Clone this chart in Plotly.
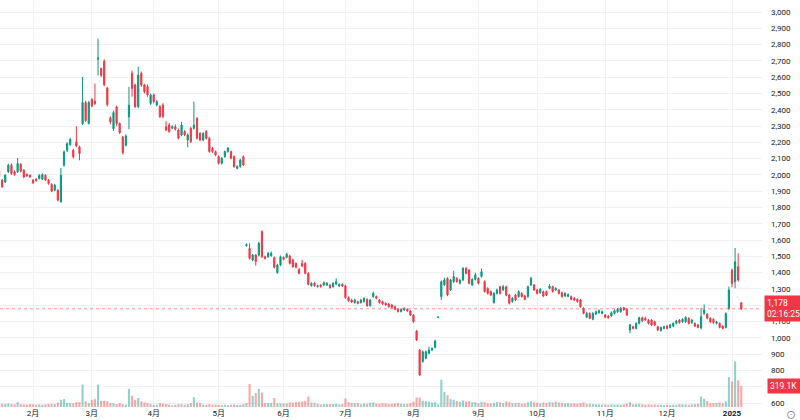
import plotly.graph_objects as go

# ---------------- data (daily bars) ----------------
opens = [
    2029, 1968, 1957, 2019, 2060, 2019, 2019, 2066, 2029, 2002,
    1998, 1968, 1974, 1978, 1974, 1998, 1968, 1941, 1906, 1906,
    1835, 2060, 2152, 2186, 2152, 2203, 2172, 2315, 2444, 2315,
    2464, 2452, 2710, 2653, 2698, 2534, 2350, 2284, 2417, 2315,
    2233, 2182, 2356, 2624, 2552, 2419, 2624, 2552, 2542, 2439,
    2491, 2429, 2419, 2429, 2296, 2306, 2286, 2296, 2276, 2245,
    2266, 2214, 2286, 2286, 2347, 2255, 2214, 2266, 2225, 2163,
    2143, 2112, 2071, 2112, 2143, 2143, 2112, 2040, 2051, 2112,
    1565, 1549, 1478, 1508, 1508, 1652, 1498, 1498, 1504, 1492,
    1400, 1447, 1494, 1494, 1502, 1478, 1457, 1420, 1457, 1457,
    1396, 1320, 1335, 1314, 1324, 1324, 1324, 1324, 1314, 1330,
    1318, 1328, 1320, 1247, 1232, 1216, 1222, 1216, 1222, 1236,
    1197, 1253, 1253, 1232, 1222, 1212, 1208, 1202, 1191, 1175,
    1161, 1171, 1175, 1165, 1140, 1042, 925, 854, 874, 905,
    925, 942, 1124, 1253, 1325, 1365, 1294, 1345, 1365, 1335,
    1355, 1427, 1416, 1324, 1359, 1365, 1376, 1345, 1304, 1284,
    1216, 1273, 1314, 1294, 1314, 1263, 1222, 1263, 1253, 1273,
    1257, 1253, 1324, 1324, 1294, 1277, 1284, 1284, 1304, 1314,
    1294, 1294, 1277, 1257, 1255, 1253, 1243, 1236, 1232, 1181,
    1126, 1150, 1114, 1146, 1154, 1150, 1140, 1134, 1134, 1150,
    1160, 1160, 1185, 1175, 1048, 1068, 1058, 1089, 1124, 1120,
    1109, 1109, 1099, 1068, 1044, 1058, 1072, 1064, 1072, 1089,
    1109, 1099, 1099, 1120, 1093, 1089, 1079, 1060, 1150, 1146,
    1120, 1114, 1089, 1089, 1072, 1064, 1181, 1416, 1345, 1437,
    1215,
]
closes = [
    1988, 1927, 1998, 2060, 2008, 2002, 2070, 2023, 1988, 1994,
    1988, 1951, 1965, 1998, 2002, 1968, 1947, 1900, 1937, 1845,
    1998, 2141, 2192, 2217, 2111, 2178, 2131, 2444, 2334, 2444,
    2424, 2438, 2718, 2612, 2554, 2432, 2325, 2383, 2315, 2260,
    2137, 2239, 2428, 2531, 2419, 2613, 2552, 2511, 2491, 2491,
    2450, 2450, 2358, 2358, 2276, 2266, 2296, 2280, 2225, 2306,
    2245, 2245, 2204, 2306, 2225, 2214, 2255, 2225, 2143, 2143,
    2122, 2071, 2102, 2143, 2163, 2102, 2051, 2051, 2092, 2061,
    1572, 1488, 1508, 1468, 1580, 1498, 1488, 1519, 1519, 1433,
    1447, 1498, 1482, 1514, 1457, 1437, 1433, 1396, 1441, 1396,
    1328, 1335, 1320, 1320, 1314, 1339, 1335, 1308, 1335, 1345,
    1328, 1318, 1247, 1228, 1220, 1232, 1212, 1232, 1242, 1197,
    1232, 1273, 1243, 1216, 1208, 1202, 1191, 1187, 1175, 1161,
    1175, 1181, 1165, 1140, 1099, 987, 772, 915, 915, 925,
    935, 981, 1128, 1345, 1355, 1263, 1355, 1376, 1345, 1355,
    1427, 1396, 1335, 1359, 1386, 1335, 1406, 1284, 1273, 1263,
    1273, 1294, 1273, 1314, 1263, 1212, 1243, 1232, 1284, 1253,
    1236, 1314, 1365, 1294, 1273, 1298, 1257, 1263, 1318, 1284,
    1304, 1273, 1253, 1273, 1265, 1236, 1232, 1222, 1191, 1150,
    1150, 1120, 1150, 1160, 1167, 1160, 1126, 1124, 1154, 1167,
    1175, 1181, 1172, 1140, 1079, 1058, 1089, 1124, 1105, 1110,
    1089, 1079, 1079, 1048, 1064, 1068, 1058, 1079, 1089, 1103,
    1093, 1114, 1126, 1089, 1109, 1072, 1064, 1130, 1170, 1120,
    1099, 1093, 1099, 1064, 1058, 1150, 1294, 1334, 1467, 1355,
    1178,
]
highs = [
    2040, 1975, 2005, 2068, 2070, 2028, 2104, 2072, 2035, 2010,
    2004, 1975, 1980, 2004, 2010, 2004, 1975, 1950, 1945, 1912,
    2043, 2150, 2200, 2228, 2160, 2299, 2180, 2601, 2455, 2455,
    2470, 2561, 2836, 2660, 2710, 2540, 2360, 2395, 2425, 2322,
    2240, 2250, 2540, 2640, 2560, 2664, 2635, 2560, 2555, 2500,
    2500, 2460, 2430, 2440, 2330, 2320, 2305, 2310, 2285, 2326,
    2275, 2255, 2295, 2450, 2355, 2262, 2262, 2275, 2232, 2172,
    2150, 2120, 2110, 2150, 2172, 2150, 2120, 2060, 2100, 2120,
    1580, 1580, 1515, 1515, 1590, 1660, 1505, 1526, 1530, 1500,
    1455, 1505, 1500, 1522, 1510, 1485, 1464, 1428, 1480, 1465,
    1402, 1342, 1342, 1326, 1330, 1346, 1342, 1330, 1342, 1365,
    1335, 1335, 1326, 1254, 1240, 1240, 1228, 1240, 1250, 1242,
    1240, 1283, 1260, 1238, 1228, 1218, 1214, 1208, 1198, 1182,
    1182, 1188, 1182, 1170, 1146, 1048, 930, 922, 922, 945,
    942, 988, 1130, 1352, 1370, 1372, 1362, 1412, 1372, 1362,
    1434, 1434, 1422, 1366, 1400, 1372, 1425, 1352, 1310, 1290,
    1280, 1302, 1320, 1325, 1320, 1270, 1250, 1270, 1292, 1280,
    1264, 1320, 1375, 1330, 1300, 1305, 1290, 1290, 1330, 1320,
    1310, 1300, 1284, 1280, 1272, 1260, 1250, 1243, 1238, 1188,
    1158, 1156, 1158, 1168, 1175, 1168, 1146, 1140, 1162, 1175,
    1182, 1190, 1190, 1182, 1085, 1074, 1095, 1130, 1130, 1130,
    1115, 1115, 1105, 1074, 1070, 1074, 1078, 1085, 1095, 1110,
    1115, 1120, 1132, 1126, 1115, 1095, 1085, 1185, 1205, 1152,
    1126, 1120, 1105, 1095, 1078, 1156, 1315, 1425, 1551, 1519,
    1218,
]
lows = [
    1980, 1920, 1950, 2012, 2000, 1995, 2012, 2015, 1980, 1988,
    1982, 1945, 1958, 1972, 1968, 1962, 1940, 1894, 1900, 1838,
    1830, 2050, 2140, 2178, 2100, 2170, 2090, 2305, 2325, 2310,
    2415, 2430, 2610, 2600, 2545, 2420, 2310, 2270, 2300, 2250,
    2125, 2175, 2280, 2480, 2410, 2410, 2540, 2500, 2480, 2430,
    2440, 2420, 2350, 2350, 2268, 2258, 2280, 2272, 2218, 2238,
    2238, 2170, 2196, 2278, 2218, 2206, 2206, 2218, 2136, 2136,
    2115, 2064, 2064, 2105, 2136, 2095, 2044, 2034, 2044, 2054,
    1560, 1480, 1470, 1443, 1500, 1490, 1480, 1490, 1498, 1426,
    1394, 1440, 1476, 1488, 1450, 1430, 1426, 1390, 1434, 1390,
    1322, 1314, 1314, 1308, 1308, 1318, 1318, 1302, 1308, 1324,
    1312, 1312, 1240, 1222, 1214, 1210, 1206, 1210, 1216, 1190,
    1192, 1246, 1236, 1210, 1202, 1196, 1186, 1180, 1170, 1156,
    1156, 1165, 1160, 1134, 1092, 980, 766, 848, 868, 898,
    918, 936, 1122, 1232, 1318, 1256, 1288, 1338, 1338, 1328,
    1348, 1390, 1328, 1318, 1352, 1328, 1370, 1278, 1266, 1256,
    1210, 1266, 1266, 1288, 1256, 1205, 1215, 1225, 1246, 1246,
    1230, 1246, 1318, 1288, 1266, 1270, 1250, 1256, 1298, 1278,
    1288, 1266, 1246, 1250, 1248, 1230, 1226, 1216, 1185, 1144,
    1120, 1114, 1108, 1140, 1148, 1144, 1120, 1118, 1128, 1144,
    1154, 1154, 1166, 1134, 1028, 1052, 1052, 1082, 1098, 1104,
    1082, 1072, 1072, 1042, 1038, 1052, 1052, 1058, 1066, 1082,
    1086, 1092, 1092, 1082, 1086, 1066, 1058, 1052, 1140, 1114,
    1092, 1086, 1082, 1058, 1052, 1058, 1170, 1310, 1304, 1345,
    1170,
]
volumes_k = [
    45, 50, 45, 55, 45, 40, 75, 45, 40, 35,
    45, 40, 35, 40, 35, 40, 45, 50, 45, 70,
    110, 120, 60, 60, 58, 76, 76, 340, 86, 60,
    110, 120, 340, 96, 96, 86, 60, 60, 45, 60,
    45, 35, 275, 172, 110, 137, 86, 70, 60, 45,
    35, 35, 60, 50, 45, 35, 25, 35, 45, 45,
    35, 45, 60, 152, 70, 60, 35, 35, 45, 35,
    35, 35, 30, 35, 30, 35, 40, 30, 35, 45,
    60, 350, 170, 210, 275, 220, 60, 60, 60, 137,
    55, 55, 55, 55, 70, 65, 75, 80, 85, 95,
    160, 70, 65, 50, 40, 45, 45, 45, 45, 50,
    40, 45, 130, 75, 60, 60, 60, 40, 55, 50,
    65, 70, 55, 50, 60, 55, 45, 50, 55, 60,
    50, 45, 50, 60, 80, 145, 145, 95, 90, 80,
    70, 75, 40, 415, 230, 180, 120, 110, 90, 75,
    100, 80, 90, 70, 75, 60, 80, 75, 60, 55,
    65, 75, 70, 60, 85, 75, 55, 60, 65, 50,
    55, 70, 85, 70, 65, 55, 70, 60, 75, 70,
    80, 70, 65, 55, 60, 55, 55, 50, 60, 70,
    45, 50, 45, 40, 40, 35, 40, 35, 40, 35,
    40, 35, 40, 50, 75, 40, 45, 50, 40, 35,
    40, 35, 40, 35, 35, 30, 35, 30, 35, 35,
    45, 40, 40, 35, 40, 45, 50, 160, 125, 90,
    60, 60, 65, 70, 55, 85, 456, 390, 694, 405,
    319.1,
]

# month-start bar indices and their labels
month_idx = [11, 30, 50, 71, 92, 112, 134, 155, 174, 196, 216, 237]
month_labels = ["2月", "3月", "4月", "5月", "6月", "7月", "8月", "9月",
                "10月", "11月", "12月", "<b>2025</b>"]
price_ticks = list(range(600, 3001, 100))
# the 700 label sits behind the volume marker in the reference
price_tick_text = ["" if v == 700 else f"{v:,}" for v in price_ticks]
last_price = 1178
last_volume = 319.1
last_volume_label = "319.1K"
countdown = "02:16:25"

# ---------------- styling ----------------
UP = "#089981"
DOWN = "#f23645"
VOL_UP = "rgba(38,166,154,0.5)"
VOL_DOWN = "rgba(239,83,80,0.5)"
GRID = "#f0f1f4"
TXT = "#131722"
FONT = "Roboto, 'Noto Sans CJK JP', sans-serif"

x = list(range(len(opens)))
vol_colors = [VOL_UP if c >= o else VOL_DOWN for o, c in zip(opens, closes)]

fig = go.Figure()
fig.add_trace(go.Candlestick(
    x=x, open=opens, high=highs, low=lows, close=closes,
    increasing=dict(line=dict(color=UP, width=1), fillcolor=UP),
    decreasing=dict(line=dict(color=DOWN, width=1), fillcolor=DOWN),
    whiskerwidth=0, hoverinfo="skip", yaxis="y",
))
fig.add_trace(go.Bar(
    x=x, y=volumes_k, marker=dict(color=vol_colors, line=dict(width=0)),
    width=0.68, yaxis="y2", hoverinfo="skip",
))

fig.update_layout(
    width=800, height=420,
    margin=dict(l=0, r=38, t=0, b=13),
    paper_bgcolor="white", plot_bgcolor="white",
    showlegend=False, boxgap=0.45,
    font=dict(family=FONT, size=8, color=TXT),
    xaxis=dict(
        range=[0.3, 246.7], tickmode="array", tickvals=month_idx,
        ticktext=month_labels, showgrid=True, gridcolor=GRID, gridwidth=1,
        zeroline=False, showline=False, ticks="", rangeslider=dict(visible=False),
        tickfont=dict(size=8, color=TXT), fixedrange=True,
    ),
    yaxis=dict(
        side="right", range=[575.45, 3073.7], tickmode="array",
        tickvals=price_ticks, ticktext=price_tick_text, showgrid=True,
        gridcolor=GRID, zeroline=False, showline=False, ticks="",
        ticklabelstandoff=8, tickfont=dict(size=8, color=TXT), fixedrange=True,
    ),
    yaxis2=dict(
        overlaying="y", range=[0, 6200], visible=False, showgrid=False,
        fixedrange=True,
    ),
    shapes=[dict(
        type="line", xref="paper", x0=0, x1=1, yref="y",
        y0=last_price, y1=last_price,
        line=dict(color="rgba(242,54,69,0.55)", width=1, dash="dot"),
    )],
    annotations=[
        dict(xref="paper", x=1, xanchor="left", xshift=2, yref="y", y=last_price,
             yanchor="middle", text=f"{last_price:,}<br>{countdown}", showarrow=False,
             align="left", bgcolor=DOWN, font=dict(color="white", size=8.5),
             borderpad=2, width=35),
        dict(xref="paper", x=1, xanchor="left", xshift=5, yref="y2", y=last_volume,
             yanchor="middle", text=last_volume_label, showarrow=False,
             align="left", bgcolor=DOWN, font=dict(color="white", size=8.5),
             borderpad=2, width=31),
        dict(xref="paper", x=1, xanchor="left", xshift=22, yref="paper", y=0,
             yanchor="top", yshift=-1, text="⊙", showarrow=False,
             font=dict(color="#787b86", size=10)),
    ],
)

fig.write_html("out.html")
